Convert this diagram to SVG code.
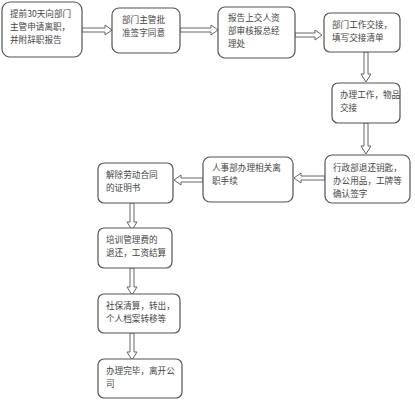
<svg xmlns="http://www.w3.org/2000/svg" width="415" height="400" viewBox="0 0 415 400">
<style>
.box{fill:#fff;stroke:#555;stroke-width:1.2}
.t{font-family:"Noto Sans CJK SC","Liberation Serif",serif;font-size:8.6px;fill:#444}
.arr{fill:#fff;stroke:#666;stroke-width:1}
</style>
<rect width="415" height="400" fill="#fff"/>
<g id="connectors">
<path class="arr" d="M82,28 H105 V25 L112,30 L105,35 V32 H82 Z"/>
<path class="arr" d="M180,28 H211 V25 L218,30 L211,35 V32 H180 Z"/>
<path class="arr" d="M295,33 H315 V30 L322,35 L315,40 V37 H295 Z"/>
<path class="arr" d="M364,52 V74 H361 L366,82 L371,74 H368 V52 Z"/>
<path class="arr" d="M364,123 V146 H361 L366,154 L371,146 H368 V123 Z"/>
<path class="arr" d="M325,176 H301 V173 L294,178 L301,183 V180 H325 Z"/>
<path class="arr" d="M203,178 H181 V175 L174,180 L181,185 V182 H203 Z"/>
<path class="arr" d="M130,203 V222 H127 L132,230 L137,222 H134 V203 Z"/>
<path class="arr" d="M130,268 V287 H127 L132,295 L137,287 H134 V268 Z"/>
<path class="arr" d="M130,333 V352 H127 L132,360 L137,352 H134 V333 Z"/>
</g>
<g id="n1"><rect class="box" x="2" y="2" width="80" height="55" rx="8"/>
<text class="t" x="10" y="17">提前30天向部门</text><text class="t" x="10" y="30">主管申请离职，</text><text class="t" x="10" y="43">并附辞职报告</text></g>
<g id="n2"><rect class="box" x="112" y="8" width="68" height="45" rx="7"/>
<text class="t" x="122" y="23">部门主管批</text><text class="t" x="122" y="36">准签字同意</text></g>
<g id="n3"><rect class="box" x="218" y="7" width="77" height="51" rx="7"/>
<text class="t" x="228" y="21">报告上交人资</text><text class="t" x="228" y="34">部审核报总经</text><text class="t" x="228" y="47">理处</text></g>
<g id="n4"><rect class="box" x="324" y="13" width="76" height="39" rx="6"/>
<text class="t" x="332" y="28">部门工作交接，</text><text class="t" x="332" y="41">填写交接清单</text></g>
<g id="n5"><rect class="box" x="332" y="83" width="68" height="40" rx="6"/>
<text class="t" x="340" y="98">办理工作，物品</text><text class="t" x="340" y="111">交接</text></g>
<g id="n6"><rect class="box" x="325" y="155" width="85" height="48" rx="7"/>
<text class="t" x="333" y="171">行政部退还钥匙，</text><text class="t" x="333" y="184">办公用品，工牌等</text><text class="t" x="333" y="197">确认签字</text></g>
<g id="n7"><rect class="box" x="203" y="157" width="90" height="45" rx="7"/>
<text class="t" x="212" y="171">人事部办理相关离</text><text class="t" x="212" y="184">职手续</text></g>
<g id="n8"><rect class="box" x="98" y="163" width="75" height="40" rx="6"/>
<text class="t" x="106" y="178">解除劳动合同</text><text class="t" x="106" y="191">的证明书</text></g>
<g id="n9"><rect class="box" x="98" y="228" width="74" height="40" rx="6"/>
<text class="t" x="106" y="243">培训管理费的</text><text class="t" x="106" y="256">退还，工资结算</text></g>
<g id="n10"><rect class="box" x="98" y="294" width="82" height="39" rx="6"/>
<text class="t" x="106" y="309">社保清算，转出，</text><text class="t" x="106" y="322">个人档案转移等</text></g>
<g id="n11"><rect class="box" x="98" y="359" width="84" height="39" rx="6"/>
<text class="t" x="106" y="374">办理完毕，离开公</text><text class="t" x="106" y="387">司</text></g>
</svg>
